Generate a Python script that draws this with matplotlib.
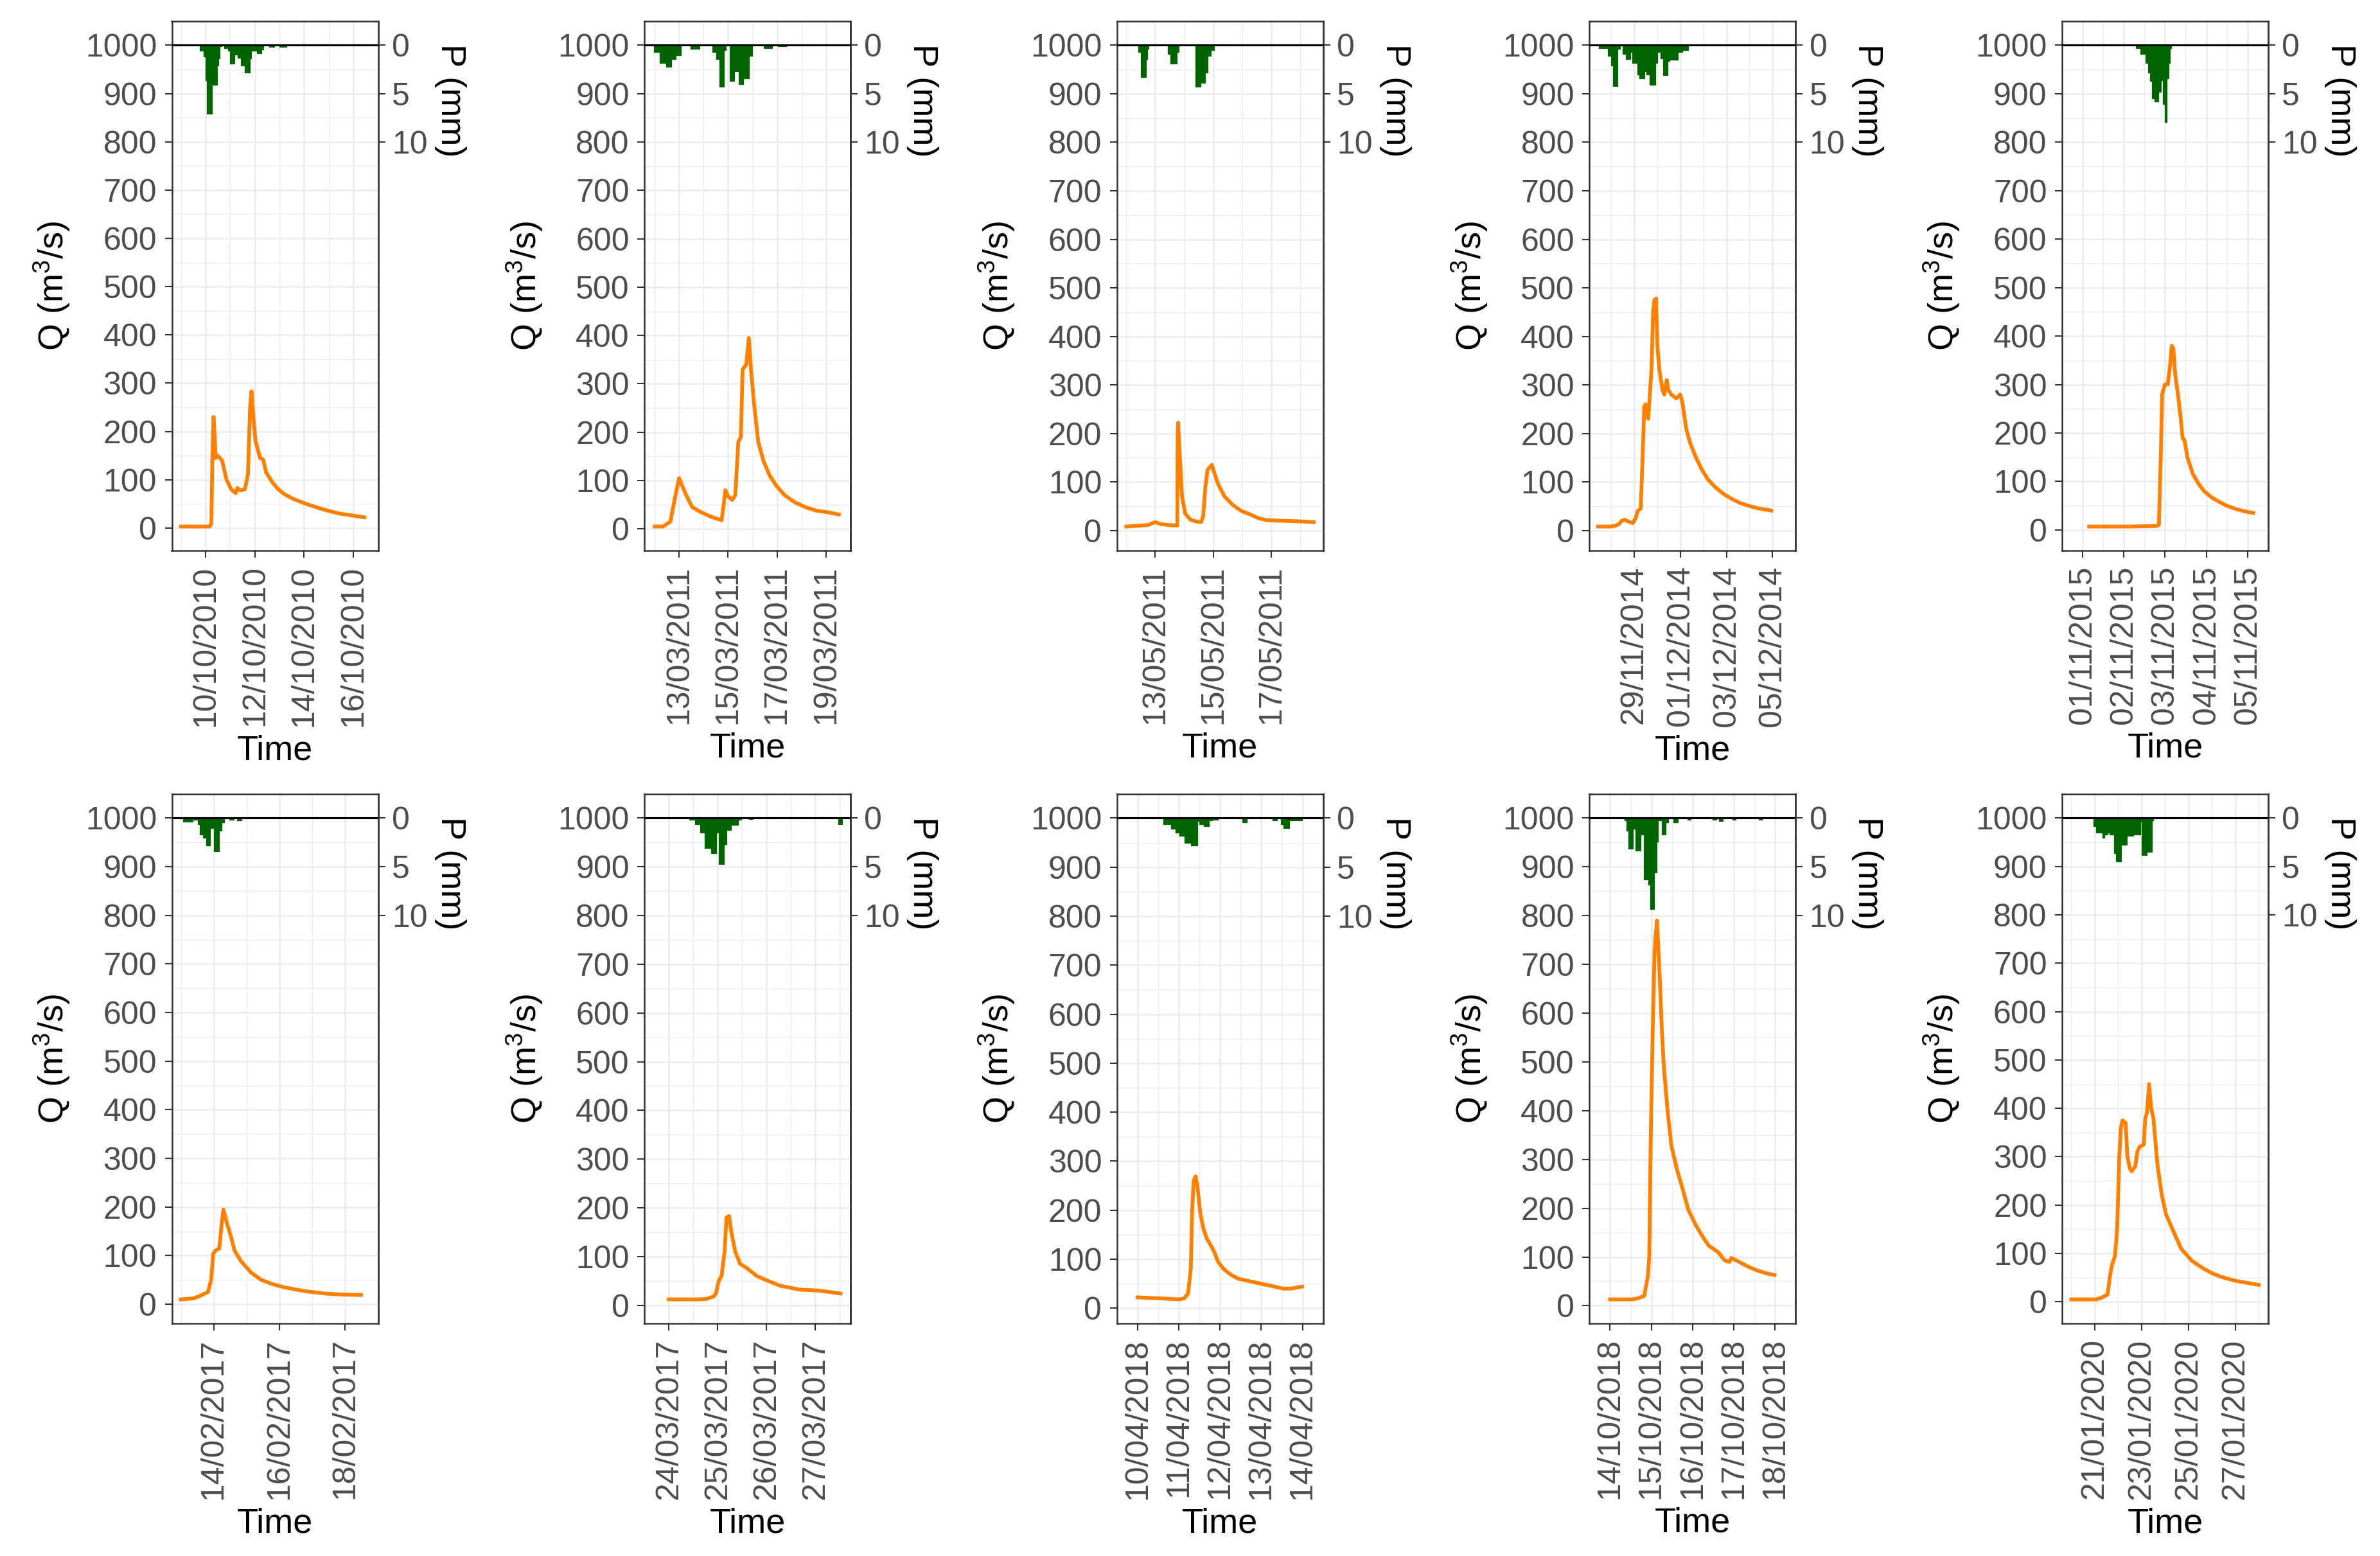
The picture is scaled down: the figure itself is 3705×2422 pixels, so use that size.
import numpy as np
import matplotlib
matplotlib.use('Agg')
import matplotlib.pyplot as plt
import matplotlib.dates as mdates
from datetime import datetime

plt.rcParams['font.family'] = ['Liberation Sans', 'DejaVu Sans']
plt.rcParams['mathtext.default'] = 'regular'

# discharge (hours after event start, m3/s) and rainfall steps (hours, mm)
q1_h = [0, 28.1, 29.6, 30.5, 31.7, 32.6, 33.8, 35.6, 40, 44.4, 48.9, 53.3, 54.8, 57.8, 62.2, 65.2,
        67.3, 68.7, 70.5, 72.6, 77, 80, 83, 88.9, 94.8, 100.7, 109.6, 124.4, 139.3, 154, 178.7]
q1_v = [3, 3, 10, 140, 230, 200, 145, 150, 140, 100, 80, 72, 83, 78, 80, 110,
        250, 283, 230, 180, 145, 142, 115, 95, 80, 70, 60, 48, 38, 30, 22]
p1_h = [18.3, 22.2, 23.8, 25.4, 29.9, 35.0, 36.4, 38.0, 39.7, 42.1, 45.8, 47.8, 52.3, 55.3, 58.4,
        62.4, 66.9, 68.5, 74.0, 78.7, 80.1, 85.8, 90.9, 96.0, 102.5]
p1_v = [0.55, 1.2, 3.6, 7.1, 4.1, 2.1, 1.4, 0.1, 0, 0.3, 0.55, 1.9, 1.0, 1.3, 2.1,
        2.8, 1.4, 0.55, 0.85, 0.45, 0, 0.2, 0, 0.2, 0]

q2_h = [0, 8.2, 15.4, 19.5, 24, 30.8, 36.9, 45.1, 55.4, 65.6, 67.7, 69.3, 71.8, 75.9, 79, 82,
        84.5, 86.2, 89.8, 92.3, 94.4, 97.4, 101.5, 106.7, 112.8, 119, 127.2, 137.4, 147.7, 158, 168.2, 180.5]
q2_v = [5, 5, 15, 60, 105, 70, 45, 35, 25, 18, 50, 80, 68, 60, 70, 180,
        190, 330, 340, 395, 330, 260, 180, 140, 110, 90, 70, 55, 45, 38, 35, 30]
p2_h = [-1, 5.1, 11.3, 16.4, 20.5, 25.6, 34.9, 44.1, 56.4, 60.5, 63.6, 67.7, 69.7, 73.4, 77.9,
        82.5, 86.8, 92.3, 95.4, 106.7, 114.9, 121, 129.2]
p2_v = [0.7, 1.8, 2.2, 1.4, 1.0, 0, 0.35, 0, 0.7, 1.4, 4.3, 0.5, 0, 3.7, 2.7,
        4.0, 3.4, 1.1, 0, 0.3, 0, 0.1, 0]

q3_h = [0, 12.7, 17.9, 23.7, 28.5, 35.5, 42.2, 42.5, 42.9, 44.3, 46.1, 48.7, 53.1, 58.4, 61.9,
        63.6, 65.4, 67.2, 70.7, 73.3, 76, 81.2, 88.3, 95.3, 102.3, 109.4, 116.4, 126.9, 141, 155]
q3_v = [8, 10, 11, 17, 13, 11, 10, 200, 222, 150, 70, 35, 22, 18, 17,
        30, 90, 125, 135, 115, 95, 70, 52, 40, 33, 25, 21, 20, 19, 17]
p3_h = [10, 11.8, 16.2, 17.6, 18.5, 34.3, 36.4, 41.7, 43.4, 57.1, 61.5, 65.4, 67.2, 69.8, 72.4]
p3_v = [0.7, 3.3, 1.4, 0.35, 0, 0.9, 1.9, 0.7, 0, 4.3, 3.9, 2.85, 1.1, 0.5, 0]

q4_h = [-13.4, 0, 5.1, 8.2, 11.3, 14.4, 18.5, 22.6, 25.7, 27.8, 30.9, 32.9, 34.6, 36, 38.7, 40.1,
        42.2, 43.8, 45.2, 46.9, 48.3, 50.4, 53.5, 55.5, 58, 59.6, 62.7, 67.9, 72, 74.1, 78.2,
        82.3, 88.4, 94.6, 100.8, 109, 117.2, 125.5, 133.7, 144, 154.2, 166.6]
q4_v = [8, 8, 10, 13, 20, 22, 18, 15, 25, 40, 45, 150, 255, 260, 230, 270,
        335, 450, 475, 478, 380, 330, 290, 280, 310, 290, 280, 272, 280, 265, 210,
        180, 150, 125, 105, 88, 75, 65, 57, 50, 45, 41]
p4_h = [-12.3, -3.1, 0, 2.1, 6.8, 9.3, 12.3, 15.4, 20.2, 22.2, 27.8, 29.8, 35, 37, 40.1, 46.3,
        47.9, 51.4, 54.5, 58.6, 60.7, 69.9, 74, 80.2]
p4_v = [0.3, 1.1, 2.1, 4.2, 0.35, 0, 0.9, 1.4, 0.7, 1.8, 3.0, 3.4, 2.7, 3.0, 4.1, 1.8,
        0.7, 1.35, 3.1, 1.6, 1.5, 0.7, 0.5, 0]

q5_h = [3.8, 27.2, 42.4, 44.4, 45.5, 46.3, 47.9, 49.5, 50.6, 51.9, 52.8, 53.9, 55.5, 57.1, 58.2,
        59.3, 61, 64.2, 67.5, 70.7, 75.1, 79.5, 83.8, 89.3, 94.7, 99.3]
q5_v = [7, 7, 8, 10, 150, 280, 300, 300, 330, 380, 375, 320, 280, 230, 190,
        185, 150, 115, 95, 80, 67, 58, 50, 43, 38, 35]
p5_h = [31, 33.7, 36.5, 38.1, 39.2, 40.3, 41.9, 44.1, 45.5, 46.6, 47.9, 49, 50.1, 50.9, 51.7]
p5_v = [0.3, 0.9, 1.8, 2.85, 3.7, 5.5, 5.8, 4.8, 3.6, 6.1, 7.9, 3.4, 1.8, 0.3, 0]

q6_h = [0, 9.3, 13.8, 19.8, 22.1, 23.6, 25.1, 28.1, 29.6, 31.1, 33.3, 36.3, 39.3, 43.8, 51.3,
        58.8, 66.3, 75.3, 84.3, 93.3, 105.3, 117.3, 131.6]
q6_v = [10, 12, 17, 25, 50, 103, 110, 115, 160, 195, 170, 142, 110, 89, 65,
        50, 42, 35, 30, 26, 22, 20, 19]
p6_h = [1.5, 8.6, 12.3, 13.8, 16, 18.3, 21.3, 24.3, 28.1, 29.6, 31.8, 35.6, 38.6, 40.8, 44.1]
p6_v = [0.35, 0.2, 0.6, 1.7, 2.0, 2.8, 1.0, 3.4, 1.3, 0.4, 0, 0.2, 0, 0.25, 0]

q7_h = [0, 14.4, 18.7, 22.1, 23.2, 24.5, 25.9, 27.4, 28.3, 29.6, 30.7, 32.6, 35, 38.4, 43.2,
        49.9, 54.7, 64.3, 73.9, 84.3]
q7_v = [12, 12, 13, 18, 25, 50, 60, 110, 180, 183, 150, 110, 85, 76, 60,
        48, 40, 32, 30, 24]
p7_h = [10.1, 13, 15.4, 17.5, 20.9, 23.2, 24.5, 27.1, 28.3, 30.7, 34.1, 35.5, 39.4, 41.3, 83.3, 85]
p7_v = [0.2, 0.6, 1.5, 3.1, 3.6, 1.5, 4.7, 2.7, 1.25, 0.7, 0.2, 0, 0.1, 0, 0.6, 0]

q8_h = [0, 13.1, 24, 27.2, 29.4, 31, 31.8, 32.7, 33.8, 34.8, 36.5, 38.1, 40.3, 42.4, 44.6,
        46.8, 50.1, 54.4, 58.8, 65.3, 71.8, 78.4, 84.9, 89.3, 95.8]
q8_v = [22, 20, 18, 20, 30, 80, 200, 260, 269, 250, 195, 165, 142, 130, 115,
        95, 80, 68, 60, 55, 50, 45, 40, 40, 44]
p8_h = [15.2, 19.6, 22.3, 24.5, 27.2, 31, 34.8, 35.9, 38.6, 41.4, 43.5, 46.8, 61, 63.7,
        78.4, 81.1, 83.3, 84.9, 88.2, 95.8]
p8_v = [0.6, 1.1, 1.5, 1.8, 2.5, 2.8, 0.3, 0.6, 0.8, 0.25, 0.15, 0, 0.4, 0,
        0.2, 0, 0.6, 1.0, 0.25, 0]

q9_h = [0, 12.8, 16, 19.9, 20.9, 22, 22.8, 23.7, 24.8, 25.9, 26.6, 27.3, 28, 28.6, 30.2, 31.3,
        33.5, 35.7, 38.9, 42.2, 45.5, 49.9, 54.2, 57.5, 62.9, 66.2, 67.3, 69.5, 70.6, 73.9,
        80.4, 85.9, 91.3, 95.7]
q9_v = [13, 13, 15, 20, 40, 60, 100, 350, 560, 725, 760, 790, 740, 700, 560, 490,
        399, 328, 280, 240, 197, 165, 140, 123, 110, 95, 92, 90, 98, 92,
        80, 72, 66, 63]
p9_h = [8.4, 9.5, 10.8, 13.3, 14.9, 17.7, 19.5, 22.4, 23.5, 25.7, 27, 28, 30, 32.2, 34, 36.8,
        39.5, 44.9, 47.1, 59.7, 61.9, 63.5, 65.7, 71.1, 73.3, 86.4, 88.6]
p9_v = [0.25, 1.3, 3.1, 1.1, 3.3, 1.7, 6.3, 6.8, 9.3, 5.6, 2.4, 0.25, 1.7, 0.4, 0, 0.4,
        0, 0.15, 0, 0.2, 0, 0.3, 0, 0.15, 0, 0.2, 0]

q10_h = [0, 25.1, 30.5, 37.1, 39.3, 41.5, 44.7, 46.9, 49.1, 50.8, 52.4, 55.6, 57.4, 60, 61.7,
         65.5, 67.6, 69.8, 74.2, 75.7, 77.5, 79.6, 81.8, 84, 88.4, 92.7, 97.1, 103.6, 112.4,
         123.3, 134.2, 145.1, 156, 169.1, 192]
q10_v = [5, 5, 8, 15, 50, 75, 95, 150, 300, 360, 375, 370, 300, 275, 270,
         280, 310, 320, 325, 380, 390, 450, 400, 380, 280, 220, 180, 150, 110,
         85, 70, 58, 50, 43, 35]
p10_h = [22.5, 25.1, 31.6, 33.8, 37.1, 39.3, 43.6, 45.8, 50.8, 56.7, 63.3, 70.5, 72, 77.5, 82.3, 84]
p10_v = [0.8, 1.5, 2.0, 1.7, 1.5, 1.7, 3.6, 4.5, 2.75, 1.85, 1.7, 0.4, 3.8, 3.5, 0.25, 0]

starts = ['09/10/2010', '12/03/2011', '12/05/2011', '28/11/2014', '01/11/2015',
          '13/02/2017', '24/03/2017', '10/04/2018', '14/10/2018', '20/01/2020']
ticks = [
    ['10/10/2010', '12/10/2010', '14/10/2010', '16/10/2010'],
    ['13/03/2011', '15/03/2011', '17/03/2011', '19/03/2011'],
    ['13/05/2011', '15/05/2011', '17/05/2011'],
    ['29/11/2014', '01/12/2014', '03/12/2014', '05/12/2014'],
    ['01/11/2015', '02/11/2015', '03/11/2015', '04/11/2015', '05/11/2015'],
    ['14/02/2017', '16/02/2017', '18/02/2017'],
    ['24/03/2017', '25/03/2017', '26/03/2017', '27/03/2017'],
    ['10/04/2018', '11/04/2018', '12/04/2018', '13/04/2018', '14/04/2018'],
    ['14/10/2018', '15/10/2018', '16/10/2018', '17/10/2018', '18/10/2018'],
    ['21/01/2020', '23/01/2020', '25/01/2020', '27/01/2020'],
]
q_hours = [q1_h, q2_h, q3_h, q4_h, q5_h, q6_h, q7_h, q8_h, q9_h, q10_h]
q_vals = [q1_v, q2_v, q3_v, q4_v, q5_v, q6_v, q7_v, q8_v, q9_v, q10_v]
p_hours = [p1_h, p2_h, p3_h, p4_h, p5_h, p6_h, p7_h, p8_h, p9_h, p10_h]
p_vals = [p1_v, p2_v, p3_v, p4_v, p5_v, p6_v, p7_v, p8_v, p9_v, p10_v]

QTOP = 1000   # rainfall hangs from this level
SCALE = 20    # m3/s per mm

ORANGE = '#FF7F00'
GREEN = '#006400'
DARK = '#333333'
TXT = '#4D4D4D'

fig = plt.figure(figsize=(3705 / 300, 2422 / 300), dpi=300)
W, H = 3705, 2422


def day(s):
    return mdates.date2num(datetime.strptime(s, '%d/%m/%Y'))


for i in range(10):
    row, col = divmod(i, 5)
    left = 267.5 + 735.6 * col
    top = 33 + 1203 * row
    ax = fig.add_axes([left / W, 1 - (top + 824) / H, 321 / W, 824 / H])

    base = day(starts[i])
    qx = base + np.asarray(q_hours[i]) / 24
    qv = np.asarray(q_vals[i], dtype=float)
    px = base + np.asarray(p_hours[i]) / 24
    pv = np.asarray(p_vals[i], dtype=float)

    # limits with 5% expansion, ggplot style
    x0, x1 = min(qx.min(), px.min()), max(qx.max(), px.max())
    dx = 0.05 * (x1 - x0)
    ax.set_xlim(x0 - dx, x1 + dx)
    y0 = qv.min()
    dy = 0.05 * (QTOP - y0)
    ax.set_ylim(y0 - dy, QTOP + dy)

    ax.fill_between(px, QTOP, QTOP - SCALE * pv, step='post', color=GREEN,
                    lw=0.3, edgecolor=GREEN, zorder=2)
    ax.axhline(QTOP, color='black', lw=0.75, zorder=3)
    ax.plot(qx, qv, color=ORANGE, lw=1.4, zorder=4, solid_joinstyle='round')

    # x axis: dates
    major = [day(t) for t in ticks[i]]
    step = major[1] - major[0]
    minor = [major[0] - step / 2] + [m + step / 2 for m in major]
    ax.set_xticks(major)
    ax.set_xticklabels(ticks[i], rotation=90)
    ax.set_xticks(minor, minor=True)
    ax.set_yticks(np.arange(0, 1001, 100))
    ax.set_yticks(np.arange(50, 1000, 100), minor=True)

    ax.set_axisbelow(True)
    ax.grid(which='major', color='#EBEBEB', lw=0.6)
    ax.grid(which='minor', color='#EBEBEB', lw=0.3)
    ax.tick_params(which='major', length=2.6, width=0.5, color=DARK,
                   labelsize=12, labelcolor=TXT, pad=3)
    ax.tick_params(which='minor', length=0)
    for sp in ax.spines.values():
        sp.set_color(DARK)
        sp.set_linewidth(0.6)

    ax.set_xlabel('Time', fontsize=13, labelpad=3)
    ax.set_ylabel('Q (m$^3$/s)', fontsize=13, labelpad=5)

    sec = ax.secondary_yaxis('right', functions=(lambda q: (QTOP - q) / SCALE,
                                                 lambda p: QTOP - SCALE * p))
    sec.set_yticks([0, 5, 10])
    sec.tick_params(length=2.6, width=0.5, color=DARK, labelsize=12,
                    labelcolor=TXT, pad=2.5)
    sec.spines['right'].set_color(DARK)
    sec.spines['right'].set_linewidth(0.6)
    ax.text(1.349, 0.851, 'P (mm)', transform=ax.transAxes, rotation=270,
            ha='center', va='center', fontsize=13)

fig.savefig('out.png', dpi=300, facecolor='white')
